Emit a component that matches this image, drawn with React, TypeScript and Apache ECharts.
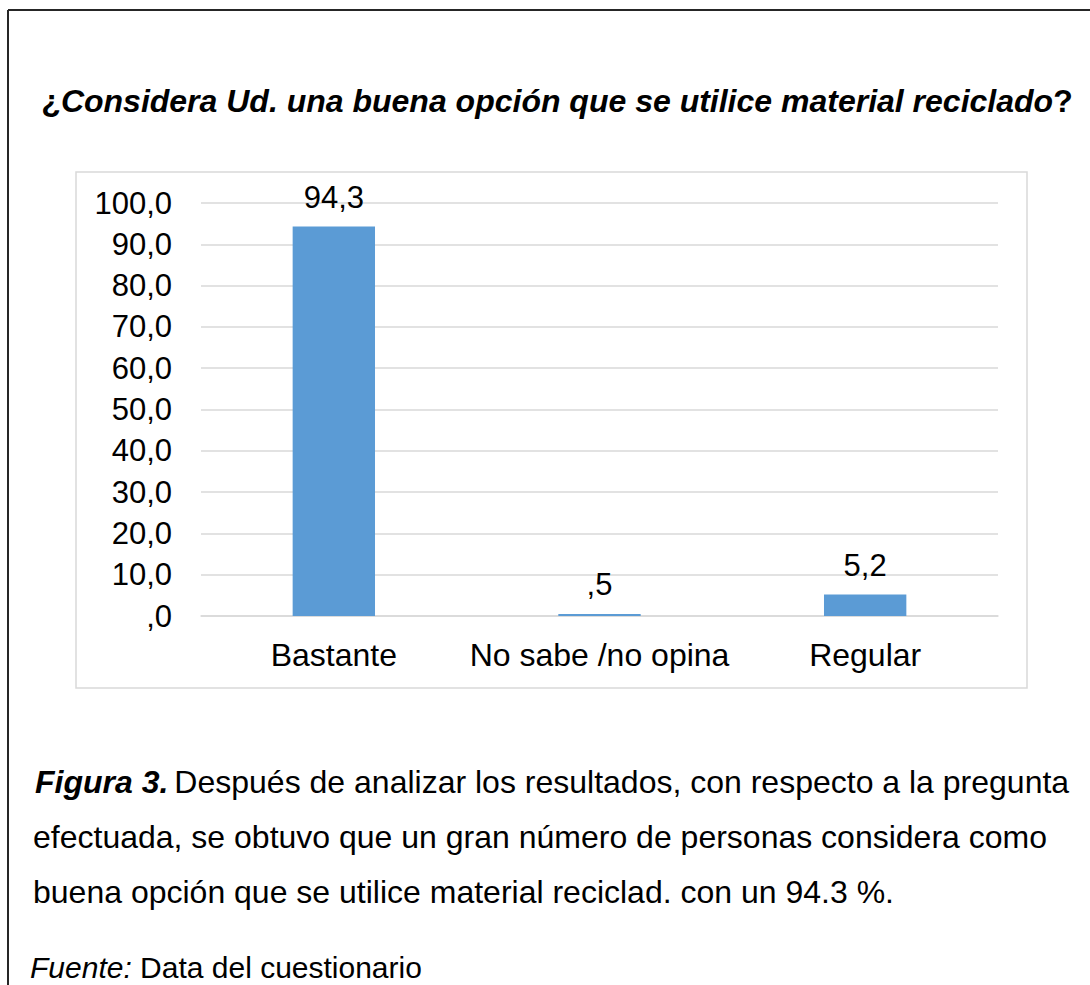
import React, { useEffect, useRef } from "react";
import * as echarts from "echarts";

const categories = ["Bastante", "No sabe /no opina", "Regular"];
const values = [94.3, 0.5, 5.2];
const yMin = 0;
const yMax = 100;
const yStep = 10;

const titleText = "Considera Ud. una buena opción que se utilice material reciclado";
const captionLead = "Figura 3.";
const captionLines = [
  "Después de analizar los resultados, con respecto a la pregunta",
  "efectuada, se obtuvo que un gran número de personas considera como",
  "buena opción que se utilice material reciclad. con un 94.3 %.",
];
const sourceLead = "Fuente:";
const sourceText = "Data del cuestionario";

const FONT = "'Liberation Sans', Arial, Helvetica, sans-serif";

function fmt(v: number): string {
  let s = v.toFixed(1).replace(".", ",");
  if (s.startsWith("0,")) s = s.slice(1);
  return s;
}

export default function App() {
  const ref = useRef<HTMLDivElement>(null);
  useEffect(() => {
    if (!ref.current) return;
    const chart = echarts.init(ref.current, null, { renderer: "svg" });
    chart.setOption({
      animation: false,
      backgroundColor: "#ffffff",
      textStyle: { fontFamily: FONT },
      grid: { left: 201, right: 92, top: 203, bottom: 369, containLabel: false },
      xAxis: {
        type: "category",
        data: categories,
        axisLine: { show: true, lineStyle: { color: "#D9D9D9", width: 1.5 } },
        axisTick: { show: false },
        axisLabel: { fontSize: 32, color: "#000", margin: 23, interval: 0, fontFamily: FONT },
      },
      yAxis: {
        type: "value",
        min: yMin,
        max: yMax,
        interval: yStep,
        axisLine: { show: false },
        axisTick: { show: false },
        axisLabel: {
          fontSize: 31,
          color: "#000",
          margin: 29,
          fontFamily: FONT,
          formatter: (v: number) => fmt(v),
        },
        splitLine: { lineStyle: { color: "#D9D9D9", width: 1.5 } },
      },
      series: [
        {
          type: "bar",
          data: values,
          barWidth: "31%",
          itemStyle: { color: "#5B9BD5" },
          label: {
            show: true,
            position: "top",
            distance: 14,
            fontSize: 31,
            color: "#000",
            fontFamily: FONT,
            formatter: (p: any) => fmt(p.value),
          },
        },
      ],
      graphic: [
        { type: "line", shape: { x1: 8, y1: 10, x2: 1090, y2: 10 }, style: { stroke: "#262626", lineWidth: 2 } },
        { type: "line", shape: { x1: 8, y1: 10, x2: 8, y2: 985 }, style: { stroke: "#262626", lineWidth: 2 } },
        {
          type: "rect",
          shape: { x: 76, y: 172, width: 951, height: 516 },
          style: { fill: "none", stroke: "#D9D9D9", lineWidth: 1.5 },
        },
        {
          type: "text",
          x: 557,
          y: 101,
          style: {
            text: "{n|¿}{i|" + titleText + "}{n|?}",
            align: "center",
            verticalAlign: "middle",
            rich: {
              n: { fontSize: 32, fontWeight: "bold", fontFamily: FONT, fill: "#000" },
              i: { fontSize: 32, fontWeight: "bold", fontStyle: "italic", fontFamily: FONT, fill: "#000" },
            },
          },
        },
        {
          type: "text",
          x: 35,
          y: 782,
          style: {
            text: "{b|" + captionLead + "}{r|" + captionLines[0] + "}",
            align: "left",
            verticalAlign: "middle",
            rich: {
              b: { fontSize: 32, fontWeight: "bold", fontStyle: "italic", fontFamily: FONT, fill: "#000", padding: [0, 6, 0, 0] },
              r: { fontSize: 32, fontFamily: FONT, fill: "#000" },
            },
          },
        },
        {
          type: "text",
          x: 33,
          y: 837,
          style: { text: captionLines[1], font: "32px " + FONT, fill: "#000", align: "left", verticalAlign: "middle" },
        },
        {
          type: "text",
          x: 33,
          y: 892,
          style: { text: captionLines[2], font: "32px " + FONT, fill: "#000", align: "left", verticalAlign: "middle" },
        },
        {
          type: "text",
          x: 30,
          y: 967,
          style: {
            text: "{i|" + sourceLead + "}{r| " + sourceText + "}",
            align: "left",
            verticalAlign: "middle",
            rich: {
              i: { fontSize: 30, fontStyle: "italic", fontFamily: FONT, fill: "#000" },
              r: { fontSize: 30, fontFamily: FONT, fill: "#000" },
            },
          },
        },
      ],
    });
    return () => chart.dispose();
  }, []);
  return (
    <div
      ref={ref}
      style={{ position: "absolute", left: 0, top: 0, width: 1090, height: 985 }}
    />
  );
}
